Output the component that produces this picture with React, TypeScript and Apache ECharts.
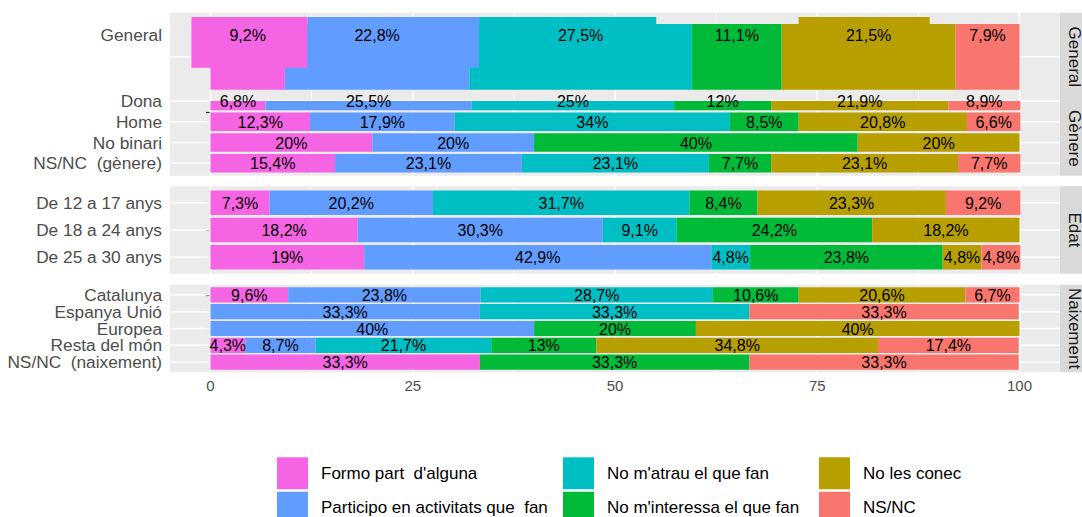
import React, { useEffect, useRef } from 'react';
import * as echarts from 'echarts';

// ---------- data ----------
const RESPONSES = [
  "Formo part  d'alguna",
  'Participo en activitats que  fan',
  "No m'atrau el que fan",
  "No m'interessa el que fan",
  'No les conec',
  'NS/NC',
];
const COLORS = ['#F564E3', '#619CFF', '#00BFC4', '#00BA38', '#B79F00', '#F8766D'];

const GENERAL_CATEGORY = ['General'];
const GENERAL_VALUES = [[9.2, 22.8, 27.5, 11.1, 21.5, 7.9]];
// extra, misaligned General segments visible in the reference: [start, end, responseIndex]
const GENERAL_OVERLAY = [
  [-2.35, 12, 0],
  [12, 33.2, 1],
  [33.2, 55.1, 2],
  [72.7, 88.9, 4],
];

const GENERE_CATEGORIES = ['Dona', 'Home', 'No binari', 'NS/NC  (gènere)'];
const GENERE_VALUES = [
  [6.8, 25.5, 25, 12, 21.9, 8.9],
  [12.3, 17.9, 34, 8.5, 20.8, 6.6],
  [20, 20, 0, 40, 20, 0],
  [15.4, 23.1, 23.1, 7.7, 23.1, 7.7],
];

const EDAT_CATEGORIES = ['De 12 a 17 anys', 'De 18 a 24 anys', 'De 25 a 30 anys'];
const EDAT_VALUES = [
  [7.3, 20.2, 31.7, 8.4, 23.3, 9.2],
  [18.2, 30.3, 9.1, 24.2, 18.2, 0],
  [19, 42.9, 4.8, 23.8, 4.8, 4.8],
];

const NAIX_CATEGORIES = ['Catalunya', 'Espanya Unió', 'Europea', 'Resta del món', 'NS/NC  (naixement)'];
const NAIX_VALUES = [
  [9.6, 23.8, 28.7, 10.6, 20.6, 6.7],
  [0, 33.3, 33.3, 0, 0, 33.3],
  [0, 40, 0, 20, 40, 0],
  [4.3, 8.7, 21.7, 13, 34.8, 17.4],
  [33.3, 0, 0, 33.3, 0, 33.3],
];

const X_TICKS = [0, 25, 50, 75, 100];
const X_MINOR = [12.5, 37.5, 62.5, 87.5];
const FACETS = ['General', 'Gènere', 'Edat', 'Naixement'];

// ---------- layout ----------
const FONT = "'Liberation Sans', Arial, Helvetica, sans-serif";
const LEFT = 170;
const WIDTH = 890;

type Panel = {
  cats: string[];
  values: number[][];
  top: number;
  height: number;
  yMin: number;
  yMax: number;
  barRows: number[];
  half: number;
  textRows: number[];
  labelRows: number[];
  tickRows: number[];
  gridRows: number[];
};

const PANELS: Panel[] = [
  {
    cats: GENERAL_CATEGORY, values: GENERAL_VALUES, top: 12.7, height: 88.3, yMin: 0, yMax: 1,
    barRows: [0.5], half: 0.372, textRows: [0.25], labelRows: [0.25], tickRows: [0.5], gridRows: [0.5],
  },
  {
    cats: GENERE_CATEGORIES, values: GENERE_VALUES, top: 101, height: 74.7, yMin: 0, yMax: 3.6,
    barRows: [0, 1, 2, 3], half: 0.45, textRows: [0, 1, 2, 3], labelRows: [0, 1, 2, 3],
    tickRows: [0.53, 1, 2, 3], gridRows: [0, 1, 2, 3],
  },
  {
    cats: EDAT_CATEGORIES, values: EDAT_VALUES, top: 186.3, height: 87.4, yMin: -0.6, yMax: 2.6,
    barRows: [0, 1, 2], half: 0.45, textRows: [0, 1, 2], labelRows: [0, 1, 2], tickRows: [0, 1, 2], gridRows: [0, 1, 2],
  },
  {
    cats: NAIX_CATEGORIES, values: NAIX_VALUES, top: 284.7, height: 87.6, yMin: -0.6, yMax: 4.6,
    barRows: [0, 1, 2, 3, 4], half: 0.45, textRows: [0, 1, 2, 3, 4], labelRows: [0, 1, 2, 3, 4],
    tickRows: [0, 1, 2, 3, 4], gridRows: [0, 1, 2, 3, 4],
  },
];

const fmt = (v: number) => String(v).replace('.', ',') + '%';

function buildOption() {
  const grid: any[] = [];
  const xAxis: any[] = [];
  const yAxis: any[] = [];
  const series: any[] = [];
  const graphic: any[] = [];

  PANELS.forEach((p, gi) => {
    const last = gi === PANELS.length - 1;
    grid.push({
      left: LEFT, top: p.top, width: WIDTH, height: p.height,
      show: true, backgroundColor: '#EBEBEB', borderWidth: 0, containLabel: false,
    });
    xAxis.push({
      type: 'value', gridIndex: gi, min: -5, max: 105,
      axisLine: { show: false },
      splitLine: { show: false },
      axisTick: {
        show: last, customValues: X_TICKS, length: 4.5,
        lineStyle: { color: '#333333', width: 1.1 },
      },
      axisLabel: {
        show: last, customValues: X_TICKS, color: '#4D4D4D', fontSize: 15,
        fontFamily: FONT, margin: 6,
      },
    });
    yAxis.push({
      type: 'value', gridIndex: gi, min: p.yMin, max: p.yMax, inverse: true,
      axisLine: { show: false },
      splitLine: { show: false },
      axisTick: {
        show: true, customValues: p.tickRows, length: 4.5,
        lineStyle: { color: '#333333', width: 1.1 },
      },
      axisLabel: {
        show: true, customValues: p.labelRows, color: '#4D4D4D', fontSize: 17.3,
        fontFamily: FONT, margin: 8,
        formatter: (v: number) => {
          const i = p.labelRows.findIndex((r) => Math.abs(r - v) < 1e-6);
          return i >= 0 ? p.cats[i] : '';
        },
      },
    });

    // gridlines: [value, orientation(0 vertical,1 horizontal), major(1)/minor(0)]
    const gridData: number[][] = [];
    X_MINOR.forEach((v) => gridData.push([v, 0, 0]));
    X_TICKS.forEach((v) => gridData.push([v, 0, 1]));
    p.gridRows.forEach((r) => gridData.push([r, 1, 1]));
    series.push({
      type: 'custom', xAxisIndex: gi, yAxisIndex: gi, silent: true, z: 1, clip: false,
      data: gridData,
      renderItem: (params: any, api: any) => {
        const v = api.value(0);
        const orient = api.value(1);
        const major = api.value(2);
        const cs = params.coordSys;
        const lw = major ? 1.5 : 0.75;
        if (orient === 0) {
          const x = api.coord([v, p.yMin])[0];
          return { type: 'line', shape: { x1: x, y1: cs.y, x2: x, y2: cs.y + cs.height }, style: { stroke: '#FFFFFF', lineWidth: lw } };
        }
        const y = api.coord([0, v])[1];
        return { type: 'line', shape: { x1: cs.x, y1: y, x2: cs.x + cs.width, y2: y }, style: { stroke: '#FFFFFF', lineWidth: lw } };
      },
    });

    // stacked segments: [start, end, row, responseIndex]
    const segs: number[][] = [];
    const texts: any[] = [];
    p.values.forEach((vals, ri) => {
      let cum = 0;
      vals.forEach((v, ci) => {
        if (v > 0) {
          segs.push([cum, cum + v, p.barRows[ri], ci]);
          texts.push([cum + v / 2, p.textRows[ri], v]);
        }
        cum += v;
      });
    });
    series.push({
      type: 'custom', xAxisIndex: gi, yAxisIndex: gi, silent: true, z: 2, clip: false,
      data: segs,
      renderItem: (params: any, api: any) => {
        const a = api.coord([api.value(0), api.value(2) - p.half]);
        const b = api.coord([api.value(1), api.value(2) + p.half]);
        const cs = params.coordSys;
        const y0 = Math.max(Math.min(a[1], b[1]), cs.y);
        const y1 = Math.min(Math.max(a[1], b[1]), cs.y + cs.height);
        return {
          type: 'rect',
          shape: { x: a[0], y: y0, width: b[0] - a[0], height: y1 - y0 },
          style: { fill: COLORS[api.value(3)] },
        };
      },
    });

    if (gi === 0) {
      series.push({
        type: 'custom', xAxisIndex: gi, yAxisIndex: gi, silent: true, z: 3, clip: false,
        data: GENERAL_OVERLAY,
        renderItem: (params: any, api: any) => {
          const a = api.coord([api.value(0), 0.049]);
          const b = api.coord([api.value(1), 0.623]);
          return {
            type: 'rect',
            shape: { x: a[0], y: Math.min(a[1], b[1]), width: b[0] - a[0], height: Math.abs(b[1] - a[1]) },
            style: { fill: COLORS[api.value(2)] },
          };
        },
      });
    }

    series.push({
      type: 'custom', xAxisIndex: gi, yAxisIndex: gi, silent: true, z: 4, clip: false,
      data: texts,
      renderItem: (params: any, api: any) => {
        const c = api.coord([api.value(0), api.value(1)]);
        return {
          type: 'text', x: c[0], y: c[1] + 0.5,
          style: {
            text: fmt(api.value(2)), fill: '#000000', fontSize: 16, fontFamily: FONT,
            align: 'center', verticalAlign: 'middle',
          },
        };
      },
    });

    // facet strip
    graphic.push({
      type: 'rect', shape: { x: 1060, y: p.top, width: 30, height: p.height },
      style: { fill: '#D9D9D9' }, silent: true,
    });
    graphic.push({
      type: 'text', x: 1074, y: p.top + p.height / 2, rotation: -Math.PI / 2,
      style: {
        text: FACETS[gi], fill: '#1A1A1A', fontSize: 17, fontFamily: FONT,
        align: 'center', verticalAlign: 'middle',
      },
      silent: true,
    });
  });

  // legend entries (empty series that only carry name + colour)
  RESPONSES.forEach((name, i) => {
    series.push({
      type: 'bar', name, data: [], xAxisIndex: 0, yAxisIndex: 0,
      itemStyle: { color: COLORS[i] },
    });
  });

  // one legend per entry, filled column-wise in a 3 x 2 layout
  const legendLefts = [277, 563, 819];
  const legendTops = [457.3, 491.8];
  const legend = RESPONSES.map((name, i) => ({
    data: [name],
    orient: 'horizontal',
    left: legendLefts[Math.floor(i / 2)],
    top: legendTops[i % 2],
    icon: 'rect',
    itemWidth: 31, itemHeight: 32,
    selectedMode: false,
    padding: 0,
    textStyle: { color: '#000000', fontSize: 17, fontFamily: FONT, padding: [0, 0, 0, 8] },
  }));

  return {
    animation: false,
    textStyle: { fontFamily: FONT },
    grid, xAxis, yAxis, series, legend, graphic,
  };
}

export default function App() {
  const ref = useRef<HTMLDivElement>(null);
  useEffect(() => {
    const chart = echarts.init(ref.current as HTMLDivElement, null, { renderer: 'svg' });
    chart.setOption(buildOption() as any);
    return () => chart.dispose();
  }, []);
  return (
    <div
      ref={ref}
      style={{ position: 'fixed', left: 0, top: 0, width: 1082, height: 517, background: '#FFFFFF' }}
    />
  );
}
